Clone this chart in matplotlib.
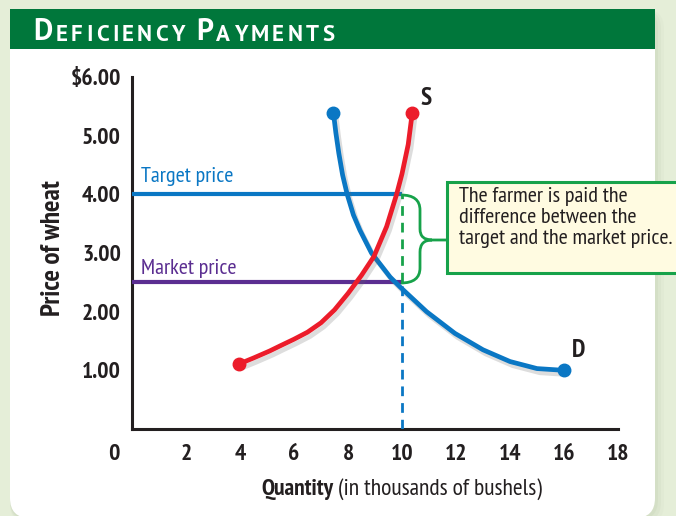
import matplotlib
matplotlib.use("Agg")
import matplotlib.pyplot as plt
import matplotlib.patheffects as pe
from matplotlib.patches import Rectangle, FancyBboxPatch, PathPatch
from matplotlib.path import Path
from matplotlib import font_manager, transforms

# values
supply_q = [3.97, 4.5, 5.1, 5.5, 6.0, 6.5, 7.0, 7.5, 8.0, 8.5, 8.96, 9.43, 9.8, 10.0, 10.23, 10.38]
supply_p = [1.11, 1.21, 1.33, 1.42, 1.53, 1.65, 1.81, 2.03, 2.31, 2.62, 2.94, 3.45, 4.0, 4.35, 4.85, 5.39]
demand_q = [7.46, 7.55, 7.66, 7.8, 7.97, 8.2, 8.44, 8.87, 9.56, 9.93, 10.91, 11.96, 13.0, 14.0, 15.0, 16.0]
demand_p = [5.39, 5.05, 4.7, 4.33, 4.0, 3.65, 3.39, 3.0, 2.59, 2.42, 2.0, 1.63, 1.35, 1.15, 1.03, 1.0]
target_price = 4.0
market_price = 2.5
quota = 10
x_ticks = [0, 2, 4, 6, 8, 10, 12, 14, 16, 18]
y_ticks = [1, 2, 3, 4, 5, 6]
y_labels = ["1.00", "2.00", "3.00", "4.00", "5.00", "$6.00"]
title = "Deficiency Payments"

blue = "#0a77c4"
red = "#ec1c2a"
purple = "#5b2e91"
green = "#17a24a"
dark = "#231f20"

names = {f.name for f in font_manager.fontManager.ttflist}
narrow = next((n for n in ["PT Sans Narrow", "Fira Sans Condensed", "Roboto Condensed",
                           "Liberation Sans Narrow"] if n in names), "DejaVu Sans")
wide = next((n for n in ["PT Sans", "Source Sans 3", "Noto Sans"] if n in names), "DejaVu Sans")
plt.rcParams["font.family"] = [narrow, "DejaVu Sans"]

fig = plt.figure(figsize=(6.76, 5.16), dpi=100)
fig.patch.set_facecolor("#e5eed8")

# background card + title bar (pixel coordinates)
bg = fig.add_axes([0, 0, 1, 1], zorder=0)
bg.set_xlim(0, 676)
bg.set_ylim(516, 0)
bg.axis("off")
for i, a in enumerate([0.08, 0.06, 0.04]):
    bg.add_patch(FancyBboxPatch((10, 9), 645 + 3 * (i + 1), 509 + 2 * (i + 1),
                                boxstyle="round,pad=0,rounding_size=20",
                                fc="#8a9a7a", ec="none", alpha=a))
bg.add_patch(FancyBboxPatch((10, 9), 645, 509, boxstyle="round,pad=0,rounding_size=20",
                            fc="white", ec="none"))
bg.add_patch(Rectangle((10, 9), 645, 40, fc="#00773b", ec="none"))

# small caps title, letter by letter for the wide tracking
prev = None
gap = 0
for word in title.split():
    for i, ch in enumerate(word):
        size = 21.5 if i == 0 else 16.5
        if prev is None:
            prev = bg.text(33, 40, ch.upper(), fontsize=size, color="white",
                           weight="bold", va="baseline", family=wide)
        else:
            prev = bg.annotate(ch.upper(), xy=(1, 0), xycoords=prev, xytext=(gap, 0),
                               textcoords="offset points", fontsize=size, color="white",
                               weight="bold", va="bottom", ha="left", family=wide)
        gap = 2.4
    gap = 8

# main chart
ax = fig.add_axes([132 / 676, 1 - 429 / 516, 486 / 676, 352 / 516], zorder=1)
ax.set_facecolor("none")
ax.set_xlim(0, 18)
ax.set_ylim(0, 6)
for s in ["top", "right"]:
    ax.spines[s].set_visible(False)
for s in ["left", "bottom"]:
    ax.spines[s].set_linewidth(2.2)
    ax.spines[s].set_color(dark)

ax.set_xticks(x_ticks)
ax.set_xticklabels([str(v) for v in x_ticks])
ax.set_yticks(y_ticks)
ax.set_yticklabels(y_labels)
ax.set_xticks(x_ticks[1:-1], minor=True)
ax.set_yticks(y_ticks[:-1], minor=True)
ax.grid(which="minor", color="#4d4d4d", lw=0.8)
ax.tick_params(which="both", length=0)
ax.tick_params(axis="x", pad=11)
ax.tick_params(axis="y", pad=8)
for lab in ax.get_xticklabels() + ax.get_yticklabels():
    lab.set_fontsize(17)
    lab.set_fontweight("bold")
    lab.set_color(dark)
zero = ax.get_xticklabels()[0]
zero.set_transform(zero.get_transform() +
                   transforms.ScaledTranslation(-18 / 100, 0, fig.dpi_scale_trans))

# price lines
ax.plot([0, quota], [target_price, target_price], color=blue, lw=3, solid_capstyle="butt", zorder=3)
ax.plot([0, quota], [market_price, market_price], color=purple, lw=3, solid_capstyle="butt", zorder=3)
ax.plot([quota, quota], [0, market_price], color=blue, lw=2, ls=(0, (3.5, 2.5)), zorder=5)
ax.plot([quota, quota], [market_price, target_price], color=green, lw=2, ls=(0, (3.5, 2.5)), zorder=5)
ax.text(0.35, 4.3, "Target price", color=blue, fontsize=16, va="center")
ax.text(0.35, 2.74, "Market price", color=purple, fontsize=16, va="center")

shadow = [pe.SimpleLineShadow(offset=(2, -3), shadow_color="#666666", alpha=0.22), pe.Normal()]
ax.plot(demand_q, demand_p, color=blue, lw=3.4, solid_capstyle="round", path_effects=shadow, zorder=4)
ax.plot(supply_q, supply_p, color=red, lw=3.4, solid_capstyle="round", path_effects=shadow, zorder=4)
ax.plot([demand_q[0], demand_q[-1]], [demand_p[0], demand_p[-1]], "o", color=blue, ms=9, zorder=6)
ax.plot([supply_q[0], supply_q[-1]], [supply_p[0], supply_p[-1]], "o", color=red, ms=9, zorder=6)
ax.text(supply_q[-1] + 0.3, supply_p[-1] + 0.05, "S", fontsize=18, weight="bold", color=dark, va="bottom")
ax.text(demand_q[-1] + 0.3, demand_p[-1] + 0.15, "D", fontsize=18, weight="bold", color=dark, va="bottom")

# foreground: axis labels, bracket, callout
fg = fig.add_axes([0, 0, 1, 1], zorder=2)
fg.set_xlim(0, 676)
fg.set_ylim(516, 0)
fg.axis("off")
fg.text(53, 248, "Price of wheat", rotation=90, fontsize=19.5, weight="bold",
        color=dark, ha="center", va="center")
q = fg.text(261, 490, "Quantity", fontsize=17, weight="bold", color=dark, va="center")
fg.annotate(" (in thousands of bushels)", xy=(1, 0), xycoords=q, fontsize=17,
            color=dark, va="bottom")

verts = [(401, 195), (420, 195), (420, 210), (420, 229), (420, 240), (432, 240),
         (447, 240), (432, 240), (420, 240), (420, 252), (420, 268), (420, 283), (401, 283)]
codes = [Path.MOVETO, Path.CURVE3, Path.CURVE3, Path.LINETO, Path.CURVE3, Path.CURVE3,
         Path.LINETO, Path.MOVETO, Path.CURVE3, Path.CURVE3, Path.LINETO, Path.CURVE3, Path.CURVE3]
fg.add_patch(PathPatch(Path(verts, codes), fc="none", ec=green, lw=2))
fg.add_patch(Rectangle((447, 182), 240, 91, fc="#fffbe1", ec=green, lw=2.2))
fg.text(459, 187, "The farmer is paid the\ndifference between the\ntarget and the market price.",
        fontsize=16, color=dark, va="top", ha="left", linespacing=1.12)

fig.savefig("out.png", dpi=100, facecolor=fig.get_facecolor())
